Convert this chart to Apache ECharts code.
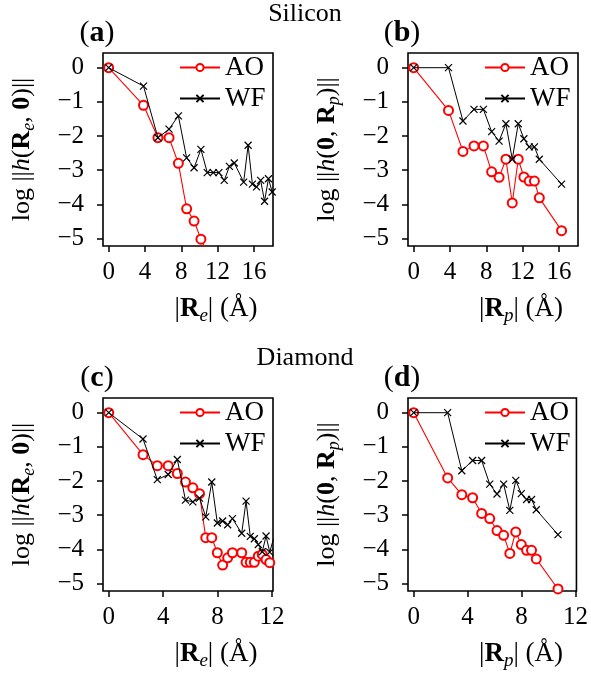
<!DOCTYPE html>
<html>
<head>
<meta charset="utf-8">
<script src="https://cdn.jsdelivr.net/npm/echarts@6/dist/echarts.min.js"></script>
<style>
  html, body { margin: 0; padding: 0; background: #fff; }
  #chart { width: 591px; height: 679px; }
</style>
</head>
<body>
<div id="chart"></div>
<script>
// Silicon, |R_e| panel (a)
const siReAoX = [0, 3.84, 5.43, 6.65, 7.68, 8.59, 9.41, 10.16, 10.86];
const siReAoY = [0, -1.10, -2.05, -2.05, -2.80, -4.13, -4.49, -5.02, -5.42];
const siReWfX = [0, 3.84, 5.43, 6.65, 7.68, 8.59, 9.41, 10.16, 10.86, 11.52, 12.14, 12.73, 13.30, 13.84, 14.87, 15.36, 15.83, 16.29, 16.74, 17.17, 17.60, 18.01];
const siReWfY = [0, -0.54, -2.05, -1.80, -1.41, -2.64, -2.93, -2.39, -3.07, -3.07, -3.07, -3.30, -2.89, -2.79, -3.35, -2.27, -3.41, -3.49, -3.30, -3.91, -3.25, -3.64];

// Silicon, |R_p| panel (b)
const siRpX = [0, 3.84, 5.43, 6.65, 7.68, 8.59, 9.41, 10.16, 10.86, 11.52, 12.14, 12.73, 13.30, 13.84, 16.29];
const siRpAoY = [0, -1.25, -2.45, -2.29, -2.29, -3.05, -3.21, -2.68, -3.96, -2.68, -3.20, -3.32, -3.32, -3.81, -4.77];
const siRpWfY = [0, 0, -1.56, -1.22, -1.22, -1.87, -2.15, -1.64, -2.68, -1.64, -2.08, -2.32, -2.32, -2.68, -3.41];

// Diamond, |R_e| panel (c)
const diReX = [0, 2.52, 3.57, 4.37, 5.04, 5.64, 6.18, 6.67, 7.13, 7.57, 7.98, 8.37, 8.74, 9.09, 9.77, 10.09, 10.40, 10.70, 10.99, 11.28, 11.56, 11.83, 12.10];
const diReAoY = [0, -1.23, -1.55, -1.55, -1.78, -2.03, -2.20, -2.37, -3.66, -3.66, -4.10, -4.46, -4.25, -4.10, -4.10, -4.38, -4.38, -4.38, -4.20, -4.15, -4.30, -4.39, -4.44];
const diReWfY = [0, -0.77, -1.96, -1.81, -1.37, -2.56, -2.61, -2.50, -3.05, -2.03, -3.23, -3.17, -3.28, -3.10, -3.53, -2.59, -3.62, -3.69, -3.86, -4.07, -3.61, -4.08, -3.70];

// Diamond, |R_p| panel (d)
const diRpX = [0, 2.52, 3.57, 4.37, 5.04, 5.64, 6.18, 6.67, 7.13, 7.57, 7.98, 8.37, 8.74, 9.09, 10.70];
const diRpAoY = [0, -1.91, -2.40, -2.49, -2.95, -3.10, -3.45, -3.59, -4.12, -3.49, -3.86, -4.03, -4.03, -4.28, -5.16];
const diRpWfY = [0, 0, -1.70, -1.40, -1.40, -2.09, -2.38, -2.09, -2.86, -1.98, -2.37, -2.54, -2.54, -2.84, -3.57];

const yTicks = [0, -1, -2, -3, -4, -5];
const siTicks = [0, 4, 8, 12, 16];
const diTicks = [0, 4, 8, 12];

const FONT = 'Liberation Serif';
const chart = echarts.init(document.getElementById('chart'));

function zip(xs, ys) {
    return xs.map((x, i) => [x, ys[i]]);
}

// rich styles for math-ish labels
function rich(size) {
    return {
        n: { fontFamily: FONT, fontSize: size, lineHeight: size + 6, verticalAlign: 'middle', color: '#000' },
        i: { fontFamily: FONT, fontSize: size, lineHeight: size + 6, verticalAlign: 'middle', fontStyle: 'italic', color: '#000' },
        b: { fontFamily: FONT, fontSize: size, lineHeight: size + 6, verticalAlign: 'middle', fontWeight: 'bold', color: '#000' },
        s: { fontFamily: FONT, fontSize: Math.round(size * 0.7), lineHeight: Math.round(size * 0.7), verticalAlign: 'bottom', fontStyle: 'italic', color: '#000' }
    };
}

const grids = [
    { left: 103, top: 53 },
    { left: 408, top: 53 },
    { left: 103, top: 398 },
    { left: 408, top: 398 }
];
const GW = 170, GH = 193;

const xRanges = [[-0.62, 18.1], [-0.62, 18.1], [-0.42, 12.07], [-0.42, 12.07]];
const xTickSets = [siTicks, siTicks, diTicks, diTicks];

const crossPath = 'path://M0,0L10,10M10,0L0,10';

function aoSeries(idx, data) {
    return {
        name: 'AO', type: 'line', xAxisIndex: idx, yAxisIndex: idx, data: data,
        symbol: 'emptyCircle', symbolSize: 9, showSymbol: true,
        lineStyle: { color: '#ff0000', width: 1.1 },
        itemStyle: { color: '#ff0000', borderColor: '#ff0000', borderWidth: 1.2 },
        animation: false, z: 3
    };
}
function wfSeries(idx, data) {
    return {
        name: 'WF', type: 'line', xAxisIndex: idx, yAxisIndex: idx, data: data,
        symbol: crossPath, symbolSize: 7, showSymbol: true,
        lineStyle: { color: '#000', width: 1 },
        itemStyle: { color: '#000', borderColor: '#000', borderWidth: 1.2 },
        animation: false, z: 4
    };
}

const option = {
    backgroundColor: '#fff',
    animation: false,
    grid: grids.map(g => ({
        left: g.left, top: g.top, width: GW, height: GH,
        show: true, borderColor: '#000', borderWidth: 1.6, backgroundColor: 'transparent',
        containLabel: false
    })),
    xAxis: grids.map((g, i) => ({
        type: 'value', gridIndex: i, min: xRanges[i][0], max: xRanges[i][1],
        splitLine: { show: false },
        axisLine: { show: false, onZero: false },
        axisTick: { show: true, length: 6, lineStyle: { color: '#000', width: 1.5 }, customValues: xTickSets[i] },
        axisLabel: {
            show: true, margin: 14, fontFamily: FONT, fontSize: 25, color: '#000',
            customValues: xTickSets[i]
        }
    })),
    yAxis: grids.map((g, i) => ({
        type: 'value', gridIndex: i, min: -5.22, max: 0.43,
        splitLine: { show: false },
        axisLine: { show: false, onZero: false },
        axisTick: { show: true, length: 6, lineStyle: { color: '#000', width: 1.5 }, customValues: yTicks },
        axisLabel: {
            show: true, margin: 19, fontFamily: FONT, fontSize: 25, color: '#000',
            customValues: yTicks,
            formatter: v => String(v).replace('-', '\u2212')
        }
    })),
    legend: grids.map(g => ({
        data: ['AO', 'WF'],
        orient: 'vertical',
        left: g.left + 76, top: g.top + 1,
        padding: 0, itemGap: 4,
        itemWidth: 40, itemHeight: 9,
        textStyle: { fontFamily: FONT, fontSize: 27, color: '#000', lineHeight: 26 }
    })),
    series: [
        aoSeries(0, zip(siReAoX, siReAoY)),
        wfSeries(0, zip(siReWfX, siReWfY)),
        aoSeries(1, zip(siRpX, siRpAoY)),
        wfSeries(1, zip(siRpX, siRpWfY)),
        aoSeries(2, zip(diReX, diReAoY)),
        wfSeries(2, zip(diReX, diReWfY)),
        aoSeries(3, zip(diRpX, diRpAoY)),
        wfSeries(3, zip(diRpX, diRpWfY))
    ],
    graphic: []
};

// titles
option.graphic.push(
    { type: 'text', x: 305, y: 14, style: { text: 'Silicon', fontFamily: FONT, fontSize: 26, fill: '#000', align: 'center', verticalAlign: 'middle' } },
    { type: 'text', x: 305, y: 358, style: { text: 'Diamond', fontFamily: FONT, fontSize: 26, fill: '#000', align: 'center', verticalAlign: 'middle' } }
);

// panel letters
const letters = ['a', 'b', 'c', 'd'];
grids.forEach((g, i) => {
    option.graphic.push({
        type: 'text', x: g.left - 6, y: g.top - 20,
        style: { text: '{n|(}{b|' + letters[i] + '}{n|)}', rich: rich(30), align: 'center', verticalAlign: 'middle' }
    });
});

// axis names
const yNames = [
    '{n|log ||}{i|h}{n|(}{b|R}{s|e}{n|, }{b|0}{n|)||}',
    '{n|log ||}{i|h}{n|(}{b|0}{n|, }{b|R}{s|p}{n|)||}'
];
const xNames = [
    '{n||}{b|R}{s|e}{n|| (Å)}',
    '{n||}{b|R}{s|p}{n|| (Å)}'
];
grids.forEach((g, i) => {
    option.graphic.push({
        type: 'text', x: g.left - 81, y: g.top + GH / 2, rotation: Math.PI / 2,
        style: { text: yNames[i % 2], rich: rich(26), align: 'center', verticalAlign: 'middle' }
    });
    option.graphic.push({
        type: 'text', x: g.left + 113, y: g.top + GH + 63,
        style: { text: xNames[i % 2], rich: rich(27), align: 'center', verticalAlign: 'middle' }
    });
});

chart.setOption(option);
</script>
</body>
</html>
